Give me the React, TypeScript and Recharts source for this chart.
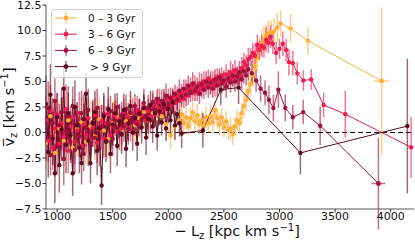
import React from 'react';
import { ComposedChart, Line, Scatter, XAxis, YAxis, ErrorBar, Legend, Label } from 'recharts';

const FONT = 'DejaVu Sans';
const COLORS = ['#FDAE3A', '#EE1B4F', '#A10F3B', '#5B0A20'];
const AGE_LABELS = ['0 – 3 Gyr', '3 – 6 Gyr', '6 – 9 Gyr', '\u2009> 9 Gyr'];
const X_TICKS = [1000, 1500, 2000, 2500, 3000, 3500, 4000];
const Y_TICKS = [-7.5, -5, -2.5, 0, 2.5, 5, 7.5, 10, 12.5];
const X_DOMAIN = [900, 4210];
const Y_DOMAIN = [-7.5, 12.5];
const ZERO_LZ = [900, 4210];
const ZERO_V = [0, 0];

// 0 - 3 Gyr
const LZ_03 = [900,940,980,1020,1060,1100,1140,1180,1220,1260,1300,1340,1380,1420,1460,1500,1540,1580,1620,1660,1700,1740,1780,1820,1860,1900,1940,1980,2020,2060,2100,
  2120,2140,2160,2180,2200,2220,2240,2260,2280,2300,2320,2340,2360,2380,2400,2420,2440,2460,2480,2500,2520,2540,2560,2580,2600,2620,2640,2660,2680,2700,2720,2740,2760,2780,2800,2820,2840,2860,2880,2900,
  2925,2950,2980,3010,3100,3255,3919];
const V_03 = [-1.0,1.6,-2.0,0.4,-0.8,1.2,-1.5,0.3,1.0,-0.9,0.6,-0.4,1.3,0.2,-0.6,0.9,1.5,0.3,1.1,1.8,0.7,1.4,2.0,1.2,1.9,2.4,1.6,0.8,-0.3,0.6,1.2,
  1.8,0.9,1.5,0.6,1.4,2.0,1.1,1.7,0.8,1.2,0.7,1.5,0.9,1.6,1.0,2.2,1.4,0.8,1.5,0.5,1.1,0.2,0.4,-0.2,0.6,1.2,0.9,1.9,2.6,3.2,4.1,4.8,5.6,6.5,7.3,8.1,8.8,9.2,9.5,9.7,
  9.8,9.9,10.3,10.7,10.2,9.0,5.05];
const E_03 = [2.6,2.9,2.4,2.8,2.5,2.7,2.3,2.6,2.4,2.2,2.5,2.3,2.1,2.4,2.0,2.2,1.9,2.1,1.8,2.0,1.7,1.9,1.6,1.8,1.5,1.7,1.4,1.6,1.3,1.4,1.2,
  1.1,1.0,1.2,0.9,1.1,1.0,0.9,1.1,1.0,0.9,1.0,1.1,0.9,1.0,1.1,0.9,1.0,1.1,0.9,1.0,1.0,0.9,1.1,1.0,0.9,1.0,1.1,1.0,1.2,1.1,1.0,1.2,1.1,1.0,1.2,1.1,1.3,1.2,1.1,1.3,
  1.2,1.3,1.4,1.3,1.4,1.4,7.2];

// 3 - 6 Gyr
const LZ_36 = [900,920,940,960,980,1000,1020,1040,1060,1080,1100,1120,1140,1160,1180,1200,1220,1240,1260,1280,1300,1320,1340,1360,1380,1400,1420,1440,1460,1480,1500,1520,1540,1560,1580,1600,1620,1640,1660,1680,1700,1720,1740,1760,1780,1800,1820,1840,1860,1880,1900,1920,1940,1960,1980,2000,2020,2040,2060,2080,2100,
  2120,2140,2160,2180,2200,2220,2240,2260,2280,2300,2320,2340,2360,2380,2400,2420,2440,2460,2480,2500,2520,2540,2560,2580,2600,2620,2640,2660,2680,2700,2720,2740,2760,2780,2800,2820,2840,2860,2880,2900,2920,2940,
  2970,3000,3030,3060,3085,3120,3160,3215,3285,3397,3592,4184];
const V_36 = [1.2,-0.8,2.1,-1.5,0.4,1.8,-1.1,0.9,-0.4,2.3,-1.8,0.6,1.5,-0.9,0.2,1.9,-1.3,0.8,-0.2,1.4,-0.7,0.5,1.7,-1.0,0.3,1.1,-0.6,0.9,1.8,-0.3,0.7,1.6,0.1,1.3,0.4,2.0,0.8,1.5,0.3,1.9,1.0,2.2,0.9,1.7,2.5,1.2,2.1,1.6,2.7,1.8,2.4,3.0,2.1,2.8,2.3,3.2,2.6,3.4,2.9,3.6,3.1,
  3.8,3.3,4.1,3.6,4.4,3.9,4.6,4.0,4.8,4.3,5.0,4.5,5.3,4.7,5.1,4.6,5.4,4.9,5.6,5.0,5.7,5.2,5.9,5.4,6.1,5.6,5.5,6.3,6.9,6.6,7.2,7.4,7.8,7.5,8.6,8.1,8.5,8.3,9.1,8.8,9.4,8.7,
  7.8,8.2,8.7,8.1,6.9,6.8,5.8,5.1,5.2,2.7,1.8,-1.45];
const E_36 = [2.4,2.1,2.6,2.2,2.5,2.0,2.3,2.6,2.1,2.4,2.2,
  2.0,1.8,2.2,1.9,2.1,1.7,2.0,1.8,2.1,1.6,1.9,1.7,2.0,1.8,1.6,1.9,1.7,1.5,1.8,1.6,
  1.5,1.7,1.4,1.6,1.3,1.5,1.4,1.2,1.5,1.3,1.4,1.2,1.3,1.1,1.4,1.2,1.3,1.1,1.2,1.0,1.3,1.1,1.2,1.0,1.1,1.2,1.0,1.1,0.9,1.0,
  1.0,0.9,1.1,0.9,1.0,0.8,1.0,0.9,1.1,0.9,1.0,0.8,0.9,1.0,0.9,1.1,0.9,1.0,0.8,0.9,1.0,0.9,1.1,0.9,1.0,0.9,1.0,1.1,0.9,1.0,1.1,0.9,1.0,1.1,1.0,0.9,1.1,1.0,1.2,1.0,1.1,1.0,
  1.1,1.0,1.2,1.1,1.3,1.2,1.1,1.0,1.0,1.2,2.3,3.0];

// 6 - 9 Gyr
const LZ_69 = [900,920,940,960,980,1000,1020,1040,1060,1080,1100,1120,1140,1160,1180,1200,1220,1240,1260,1280,1300,1320,1340,1360,1380,1400,1420,1440,1460,1480,1500,1520,1540,1560,1580,1600,1620,1640,1660,1680,1700,1720,1740,1760,1780,1800,1820,1840,1860,1880,1900,1920,1940,1960,1980,2000,2020,2040,2060,2080,2100,
  2120,2140,2160,2180,2200,2220,2240,2260,2280,2300,2320,2340,2360,2380,2400,2420,2440,2460,2480,2500,2520,2540,2560,2580,2600,2620,2640,2660,2680,2700,2720,
  2752,2790,2830,2870,2905,2945,2990,3052,3120,3213,3366,3890];
const V_69 = [-0.5,2.4,-2.2,0.9,3.1,-1.4,0.7,2.0,-2.6,0.1,1.6,-0.9,2.6,-1.7,0.8,-0.4,1.9,-2.1,0.5,2.2,-1.2,1.0,-0.5,2.4,-1.6,0.6,1.8,-0.8,0.9,2.1,-0.6,1.2,2.5,0.0,1.7,0.6,2.3,0.4,1.9,1.1,2.6,0.8,2.0,1.3,2.9,1.6,2.4,1.2,3.0,2.2,3.3,2.0,3.1,2.5,3.6,2.7,3.4,2.9,3.8,3.2,4.1,
  3.5,4.3,3.7,4.6,3.9,4.8,4.1,4.5,3.8,4.7,4.2,5.0,4.4,4.9,4.3,5.2,4.6,5.4,4.8,5.1,4.5,5.3,4.9,5.6,5.0,5.5,5.9,5.2,6.0,5.6,6.2,
  5.8,5.1,4.3,3.9,3.2,2.4,4.2,2.4,1.5,2.0,0.66,-5.0];
const E_69 = [2.3,2.6,2.0,2.5,2.2,2.7,2.1,2.4,2.6,2.0,2.3,
  2.1,1.9,2.3,1.8,2.0,2.2,1.7,1.9,2.1,1.8,2.0,1.6,1.9,1.7,2.1,1.8,1.6,1.9,1.5,1.7,
  1.6,1.4,1.7,1.3,1.5,1.4,1.6,1.3,1.4,1.2,1.5,1.3,1.2,1.4,1.1,1.3,1.2,1.1,1.3,1.0,1.2,1.1,1.0,1.2,1.1,1.0,1.1,0.9,1.0,1.1,
  1.0,0.9,1.1,1.0,0.9,1.1,1.0,0.9,1.0,1.1,0.9,1.0,1.0,1.1,0.9,1.0,1.1,0.9,1.0,1.0,1.1,0.9,1.0,1.1,1.0,0.9,1.1,1.0,1.2,1.0,1.1,
  1.2,1.1,1.3,1.2,1.4,1.3,1.8,1.3,1.2,1.2,1.9,4.5];

// > 9 Gyr
const LZ_9 = [900,920,940,960,980,1000,1020,1040,1060,1080,1100,1120,1140,1160,1180,1200,1220,1240,1260,1280,1300,1320,1340,1360,1380,1400,1420,1440,1460,1480,1500,1520,1540,1560,1580,1600,1620,1640,1660,1680,1700,1720,1740,1760,1780,1800,1820,1840,1860,1880,1900,1920,1940,1960,1980,2000,2020,2040,2060,2080,2100,
  2120,2311,2472,2632,3188,4150];
const V_9 = [2.8,-1.9,3.7,-0.6,-4.0,1.5,-3.2,0.3,4.3,-1.2,1.9,-0.3,-4.0,2.5,0.7,-1.5,-3.0,1.3,3.8,-0.8,-3.0,0.9,2.0,-1.8,0.4,-5.2,1.6,-0.9,2.3,-2.1,0.8,1.9,-1.3,1.1,-0.2,2.2,-1.6,0.9,2.6,0.0,1.4,-1.1,1.8,0.5,2.4,-0.5,1.3,2.7,0.6,1.9,-0.3,2.1,1.0,2.8,0.4,2.3,1.2,3.0,0.7,1.8,0.9,
  -0.1,0.2,4.2,4.4,-2.0,0.63];
const E_9 = [2.8,2.5,3.0,2.6,2.9,2.4,2.7,3.1,2.5,2.8,2.6,
  2.4,2.2,2.6,2.3,2.5,2.1,2.4,2.2,2.5,2.0,2.3,2.1,2.4,2.2,1.9,2.3,2.0,2.2,1.9,2.1,
  1.9,2.0,1.7,1.9,1.6,1.8,1.7,1.5,1.8,1.6,1.7,1.5,1.6,1.4,1.7,1.5,1.4,1.6,1.3,1.5,1.4,1.3,1.5,1.2,1.4,1.3,1.2,1.4,1.1,1.3,
  1.4,1.7,1.5,1.6,2.1,6.6];

// horizontal error bars on the outermost bins
const XERR_LZ = [3919, 3890];
const XERR_V = [5.05, -5.0];
const XERR_E = [68, 63];
const XERR_SERIES = [0, 2];

const build = (lz: number[], v: number[], e: number[]) => lz.map((x, i) => ({ lz: x, v: v[i], e: e[i] }));

const SERIES = [
  build(LZ_03, V_03, E_03),
  build(LZ_36, V_36, E_36),
  build(LZ_69, V_69, E_69),
  build(LZ_9, V_9, E_9),
];
const ZERO_DATA = ZERO_LZ.map((x, i) => ({ lz: x, v: ZERO_V[i] }));

const fmtY = (v: number) => v.toFixed(1).replace('-', '\u2212');

const XTitle = (props: any) => {
  const vb = props.viewBox || { x: 46, y: 209, width: 368, height: 31 };
  return (
    <text x={vb.x + vb.width / 2 + 7} y={vb.y + 27} textAnchor="middle" fontSize={14.5} fontFamily={FONT} fill="#111">
      {'\u2212 L'}
      <tspan dy={3} fontSize={10}>z</tspan>
      <tspan dy={-3}>{' [kpc km s'}</tspan>
      <tspan dy={-5.5} fontSize={10}>{'\u22121'}</tspan>
      <tspan dy={5.5}>]</tspan>
    </text>
  );
};

const YTitle = (props: any) => {
  const vb = props.viewBox || { x: 0, y: 5, width: 46, height: 204 };
  const cy = vb.y + vb.height / 2;
  return (
    <text transform={`translate(13.5,${cy}) rotate(-90)`} textAnchor="middle" fontSize={14.5} fontFamily={FONT} fill="#111">
      {'v\u0305'}
      <tspan dy={3} fontSize={10}>z</tspan>
      <tspan dy={-3}>{' [km s'}</tspan>
      <tspan dy={-5.5} fontSize={10}>{'\u22121'}</tspan>
      <tspan dy={5.5}>]</tspan>
    </text>
  );
};

const renderLegend = () => (
  <div style={{ width: 92, height: 69, boxSizing: 'border-box', border: '1px solid #d4d4d4', borderRadius: 3, background: 'rgba(255,255,255,0.8)' }}>
    <svg width={90} height={67} style={{ display: 'block' }}>
      {AGE_LABELS.map((lab, i) => {
        const y = 8 + i * 16.2;
        const c = COLORS[i];
        return (
          <g key={lab}>
            <line x1={3} x2={25} y1={y} y2={y} stroke={c} strokeWidth={1} />
            <line x1={14} x2={14} y1={y - 5.5} y2={y + 5.5} stroke={c} strokeWidth={1.5} strokeOpacity={0.6} />
            <circle cx={14} cy={y} r={2.4} fill={c} />
            <text x={36} y={y} dominantBaseline="central" fontSize={10.5} fontFamily={FONT} fill="#111">{lab}</text>
          </g>
        );
      })}
    </svg>
  </div>
);

export default function App() {
  return (
    <div style={{ position: 'absolute', left: 0, top: 0, width: 415, height: 240, background: '#fff' }}>
      <ComposedChart width={415} height={240} margin={{ top: 5, right: 1, bottom: 0, left: 0 }}>
        <XAxis
          xAxisId={0}
          type="number"
          dataKey="lz"
          domain={X_DOMAIN}
          ticks={X_TICKS}
          interval={0}
          allowDataOverflow
          height={31}
          tickSize={3.5}
          tickMargin={0}
          tick={{ fontSize: 11, fill: '#111', fontFamily: FONT }}
          tickLine={{ stroke: '#333' }}
          axisLine={{ stroke: '#555' }}
        >
          <Label content={XTitle} />
        </XAxis>
        <XAxis xAxisId="top" orientation="top" type="number" domain={X_DOMAIN} allowDataOverflow height={0} tick={false} tickLine={false} axisLine={{ stroke: '#555' }} />
        <YAxis
          yAxisId={0}
          type="number"
          domain={Y_DOMAIN}
          ticks={Y_TICKS}
          interval={0}
          allowDataOverflow
          width={46}
          tickSize={3.5}
          tickMargin={1}
          tickFormatter={fmtY}
          tick={{ fontSize: 11, fill: '#111', fontFamily: FONT }}
          tickLine={{ stroke: '#333' }}
          axisLine={{ stroke: '#555' }}
        >
          <Label content={YTitle} />
        </YAxis>
        <YAxis yAxisId="right" orientation="right" type="number" domain={Y_DOMAIN} allowDataOverflow width={0} tick={false} tickLine={false} axisLine={{ stroke: '#555' }} />
        <Legend content={renderLegend} layout="vertical" align="center" verticalAlign="middle" wrapperStyle={{ left: 51, top: 9, width: 92, height: 69 }} />
        <Line data={ZERO_DATA} dataKey="v" stroke="#000" strokeWidth={1.2} strokeDasharray="5 3" dot={false} activeDot={false} isAnimationActive={false} />
        {SERIES.map((data, i) => (
          <Line
            key={'s' + i}
            data={data}
            dataKey="v"
            type="linear"
            stroke={COLORS[i]}
            strokeWidth={1}
            dot={{ r: 2.2, fill: COLORS[i], stroke: COLORS[i], strokeWidth: 0 }}
            activeDot={false}
            isAnimationActive={false}
          >
            <ErrorBar dataKey="e" direction="y" width={0} stroke={COLORS[i]} strokeWidth={1.5} strokeOpacity={0.6} />
          </Line>
        ))}
        {XERR_LZ.map((x, i) => (
          <Scatter
            key={'x' + i}
            data={[{ lz: x, v: XERR_V[i], xe: XERR_E[i] }]}
            dataKey="v"
            fill={COLORS[XERR_SERIES[i]]}
            shape={(p: any) => <circle cx={p.cx} cy={p.cy} r={2.2} fill={COLORS[XERR_SERIES[i]]} />}
            isAnimationActive={false}
          >
            <ErrorBar dataKey="xe" direction="x" width={0} stroke={COLORS[XERR_SERIES[i]]} strokeWidth={1.5} strokeOpacity={0.6} />
          </Scatter>
        ))}
      </ComposedChart>
    </div>
  );
}
